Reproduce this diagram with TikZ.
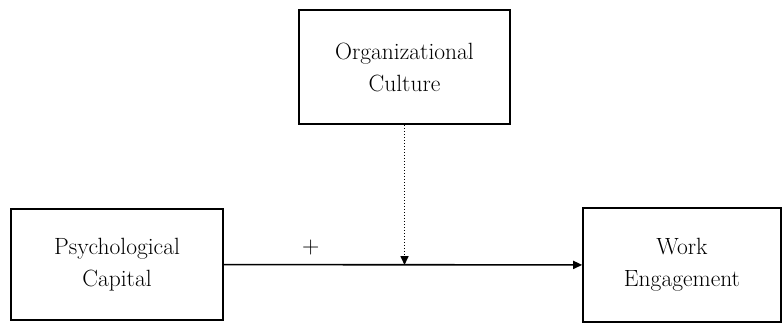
\documentclass[tikz,border=0pt]{standalone}
\usepackage{tikz}
\usetikzlibrary{positioning,arrows.meta}
\tikzstyle{var box}=[draw,line width=1.6pt,align=center,font=\fontsize{23.5}{32}\selectfont]
\tikzstyle{path edge}=[-{Triangle[length=9pt,width=8pt]},line width=1.6pt]
\tikzstyle{mod edge}=[-{Triangle[length=9pt,width=8pt]},line width=1.6pt,dash pattern=on 1.6pt off 1.4pt]
\newcommand{\varnode}[5][]{
  \node [var box, minimum width=#3, minimum height=#4, #1] (#2) {#5}
}

\begin{document}
\begin{tikzpicture}[x=1pt,y=-1pt]
        \useasboundingbox (0,0) rectangle (784,323);
        \varnode[at={(404.5,67)}]{culture}{211pt}{114pt}{Organizational\\Culture};
        \varnode[at={(117,264.5)}]{capital}{212pt}{111pt}{Psychological\\Capital};
        \varnode[at={(682,265)}]{engage}{198pt}{114pt}{Work\\Engagement};
        \coordinate (meet) at (culture.south |- engage.west);

            \draw[path edge] (capital) -- (engage);
            \draw[mod edge] (culture) -- (meet);

        \node [above=6pt of capital.east, xshift=87pt, font=\fontsize{24}{24}\selectfont] (sign) {+};
        \end{tikzpicture}
\end{document}
